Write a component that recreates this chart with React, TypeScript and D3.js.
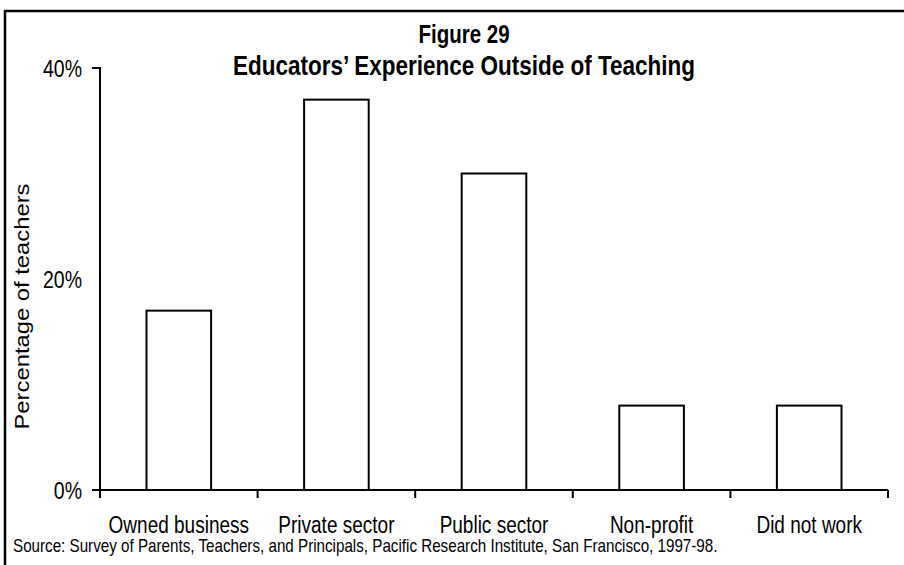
import { useEffect, useRef } from 'react';
import * as d3 from 'd3';

// data
const categories = ['Owned business', 'Private sector', 'Public sector', 'Non-profit', 'Did not work'];
const percentTeachers = [17, 37, 30, 8, 8];
const yTicks = [0, 20, 40];
const titleLines = ['Figure 29', 'Educators\u2019 Experience Outside of Teaching'];
const yLabel = 'Percentage of teachers';
const sourceNote = 'Source: Survey of Parents, Teachers, and Principals, Pacific Research Institute, San Francisco, 1997-98.';

const W = 904;
const H = 565;
const FONT = '"Liberation Sans", Arial, Helvetica, sans-serif';
// the scanned original is stretched vertically a bit
const STRETCH = 1.22;

const App = () => {
    const svgRef = useRef<SVGSVGElement>(null);

    useEffect(() => {
        const svg = d3.select(svgRef.current);
        svg.selectAll('*').remove();

        const left = 100;
        const right = 888;
        const bottom = 490;
        const top = 68;

        const x = d3.scaleBand<string>().domain(categories).range([left, right]).padding(0);
        const y = d3.scaleLinear().domain([0, 40]).range([bottom, top]);
        const barW = x.bandwidth() * 0.41;

        // frame of the page (top and left edges only)
        svg.append('path')
            .attr('d', `M5,${H} V11 H${W}`)
            .attr('fill', 'none')
            .attr('stroke', '#000')
            .attr('stroke-width', 2.5);

        // title
        svg.selectAll('.title')
            .data(titleLines)
            .enter().append('text')
            .attr('class', 'title')
            .attr('transform', (d, i) => `translate(464,${i === 0 ? 43 : 75}) scale(1,${STRETCH})`)
            .attr('text-anchor', 'middle')
            .style('font-family', FONT)
            .style('font-weight', 'bold')
            .style('font-size', (d, i) => (i === 0 ? '20.5px' : '22.5px'))
            .style('fill', '#000')
            .text(d => d);

        // bars
        svg.selectAll('.bar')
            .data(percentTeachers)
            .enter().append('rect')
            .attr('class', 'bar')
            .attr('x', (d, i) => (x(categories[i]) as number) + x.bandwidth() / 2 - barW / 2)
            .attr('y', d => y(d))
            .attr('width', barW)
            .attr('height', d => bottom - y(d))
            .attr('fill', '#fff')
            .attr('stroke', '#000')
            .attr('stroke-width', 2);

        // y axis
        const yAxis = d3.axisLeft(y).tickValues(yTicks).tickSize(8).tickFormat(() => '');
        const gy = svg.append('g')
            .attr('transform', `translate(${left},0)`)
            .call(yAxis);
        gy.select('.domain').attr('d', `M-8,${top}H0V${bottom}H-8`);
        gy.selectAll('line').remove();
        gy.selectAll('path, line').attr('stroke', '#000').attr('stroke-width', 2);

        svg.selectAll('.ytick')
            .data(yTicks)
            .enter().append('text')
            .attr('class', 'ytick')
            .attr('transform', d => `translate(82,${y(d) + 9}) scale(1,${STRETCH})`)
            .attr('text-anchor', 'end')
            .style('font-family', FONT)
            .style('font-size', '19.5px')
            .style('fill', '#000')
            .text(d => `${d}%`);

        // x axis with ticks on the category boundaries
        const edges = categories.map(c => x(c) as number).concat([right]);
        const gx = svg.append('g');
        gx.append('line')
            .attr('x1', left).attr('x2', right)
            .attr('y1', bottom).attr('y2', bottom)
            .attr('stroke', '#000').attr('stroke-width', 2);
        gx.selectAll('.xtick')
            .data(edges)
            .enter().append('line')
            .attr('class', 'xtick')
            .attr('x1', d => d).attr('x2', d => d)
            .attr('y1', bottom).attr('y2', bottom + 8)
            .attr('stroke', '#000').attr('stroke-width', 2);

        svg.selectAll('.xlabel')
            .data(categories)
            .enter().append('text')
            .attr('class', 'xlabel')
            .attr('transform', d => `translate(${(x(d) as number) + x.bandwidth() / 2},533) scale(1,${STRETCH})`)
            .attr('text-anchor', 'middle')
            .style('font-family', FONT)
            .style('font-size', '19px')
            .style('fill', '#000')
            .text(d => d);

        // y axis title
        svg.append('text')
            .attr('transform', `translate(29,306.5) rotate(-90) scale(${STRETCH},1)`)
            .attr('text-anchor', 'middle')
            .style('font-family', FONT)
            .style('font-size', '19.5px')
            .style('fill', '#000')
            .text(yLabel);

        // source note
        svg.append('text')
            .attr('transform', `translate(13,552) scale(1,${STRETCH})`)
            .style('font-family', FONT)
            .style('font-size', '15.2px')
            .style('fill', '#000')
            .text(sourceNote);
    }, []);

    return (
        <svg
            ref={svgRef}
            width={W}
            height={H}
            style={{ position: 'absolute', left: 0, top: 0, background: '#fff' }}
        ></svg>
    );
};

export default App;
